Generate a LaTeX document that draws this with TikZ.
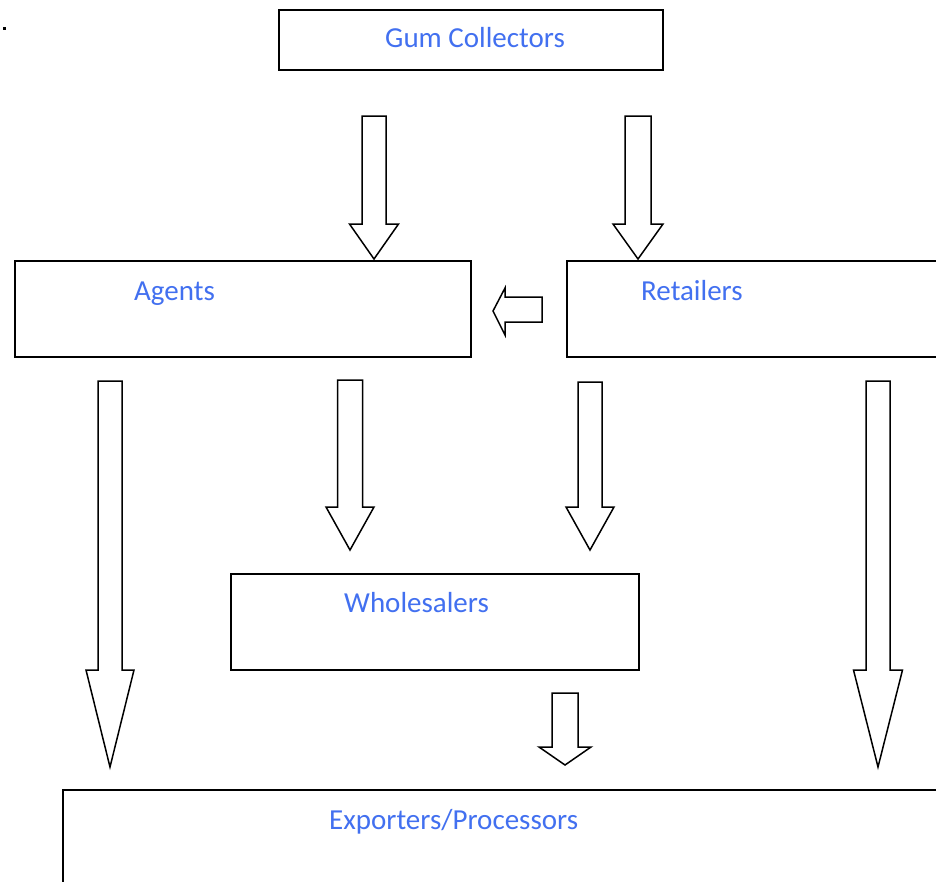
\documentclass[tikz,border=0pt]{standalone}
\usepackage{fontspec}
\setmainfont{Carlito}
\definecolor{lblcol}{RGB}{66,112,240}
\newcommand\blockdown[7]{% name, x, half shaft, top, head base, half head, tip
  \draw[arr] (#2-#3,#4) -- (#2+#3,#4) -- (#2+#3,#5) -- (#2+#6,#5) -- (#2,#7)
    -- (#2-#6,#5) -- (#2-#3,#5) -- cycle;
  \coordinate (#1) at (#2,#7);}
\begin{document}
\begin{tikzpicture}[x=1pt,y=-1pt,
  boxst/.style={draw=black,line width=1.9pt,fill=white,inner sep=0pt,anchor=north west},
  arr/.style={draw=black,line width=1.5pt,fill=white,line join=miter},
  lbl/.style={text=lblcol,font=\fontsize{29}{34}\selectfont,anchor=base west,inner sep=0pt}]
\useasboundingbox (0,0) rectangle (936,881);
\clip (0,0) rectangle (936,881);
\fill[black] (2.5,26.5) rectangle (5.5,29.5);
% boxes
\node[boxst,minimum width=384pt,minimum height=60pt] (gum) at (278,9) {};
\node[boxst,minimum width=456pt,minimum height=96pt] (agents) at (14,260) {};
\node[boxst,minimum width=420pt,minimum height=96pt] (retail) at (566,260) {};
\node[boxst,minimum width=408pt,minimum height=96pt] (whole) at (230,573) {};
\node[boxst,minimum width=900pt,minimum height=140pt] (export) at (62,789) {};
% labels
\node[lbl] (tgum) at (385,47) {Gum Collectors};
\node[lbl] (tagents) at (134,300) {Agents};
\node[lbl] (tretail) at (641,300) {Retailers};
\node[lbl] (twhole) at (344,612) {Wholesalers};
\node[lbl] (texport) at (329,829) {Exporters/Processors};
% block arrows
\blockdown{a1}{374}{12}{116}{224}{24.5}{259}
\blockdown{a2}{638}{13}{116}{224}{25}{259}
\blockdown{a4}{110}{12}{381}{670}{24}{767}
\blockdown{a5}{350}{12.5}{380}{507}{24}{550}
\blockdown{a6}{590}{12}{382}{507}{24}{550}
\blockdown{a7}{878}{12}{381}{670}{24.5}{767}
\blockdown{a8}{565}{13}{693}{747}{26}{765}
% left arrow Retailers -> Agents
\draw[arr] (542,297) -- (542,322) -- (505,322) -- (505,335) -- (493,311)
  -- (505,288) -- (505,297) -- cycle;
\end{tikzpicture}
\end{document}
